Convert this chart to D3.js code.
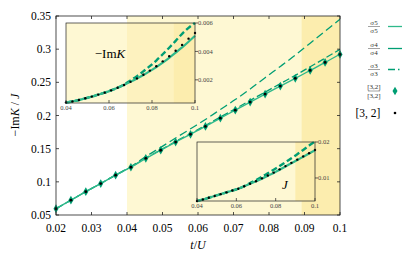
<!DOCTYPE html>
<html>
<head>
<meta charset="utf-8">
<script src="https://cdn.jsdelivr.net/npm/d3@7"></script>
<style>
  body { margin: 0; background: #fff; }
  svg { display: block; font-family: "Liberation Serif", "DejaVu Serif", serif; }
</style>
</head>
<body>
<div id="chart"></div>
<script>
// --- data ---
const tMain = [0.0200, 0.0242, 0.0284, 0.0326, 0.0368, 0.0411, 0.0453, 0.0495, 0.0537, 0.0579,
               0.0621, 0.0663, 0.0705, 0.0747, 0.0789, 0.0832, 0.0874, 0.0916, 0.0958, 0.1000];
const main32 = [0.0595, 0.0723, 0.0852, 0.0973, 0.1100, 0.1220, 0.1354, 0.1476, 0.1600, 0.1717,
                0.1836, 0.1960, 0.2080, 0.2203, 0.2323, 0.2443, 0.2560, 0.2680, 0.2800, 0.2920];
const mainSig5 = [0.0595, 0.0723, 0.0852, 0.0973, 0.1100, 0.1220, 0.1354, 0.1476, 0.1600, 0.1717,
                  0.1836, 0.1960, 0.2080, 0.2203, 0.2323, 0.2443, 0.2560, 0.2680, 0.2800, 0.2925];
const mainSig4 = [0.0595, 0.0723, 0.0852, 0.0973, 0.1101, 0.1223, 0.1358, 0.1482, 0.1608, 0.1728,
                  0.1850, 0.1977, 0.2100, 0.2228, 0.2353, 0.2481, 0.2605, 0.2735, 0.2865, 0.2996];
const mainSig3 = [0.0595, 0.0723, 0.0852, 0.0975, 0.1105, 0.1230, 0.1380, 0.1520, 0.1660, 0.1800,
                  0.1940, 0.2090, 0.2240, 0.2400, 0.2570, 0.2740, 0.2910, 0.3090, 0.3270, 0.3450];

const tInset = [0.040, 0.043, 0.046, 0.049, 0.052, 0.055, 0.058, 0.061, 0.064, 0.067, 0.070,
                0.073, 0.076, 0.079, 0.082, 0.085, 0.088, 0.091, 0.094, 0.097, 0.100];
const k32 = [0.00040, 0.00048, 0.00058, 0.00070, 0.00082, 0.00096, 0.00110, 0.00126, 0.00144, 0.00164, 0.00186,
             0.00210, 0.00236, 0.00265, 0.00296, 0.00330, 0.00366, 0.00405, 0.00446, 0.00490, 0.00530];
const kSig5 = [0.00040, 0.00048, 0.00058, 0.00070, 0.00082, 0.00096, 0.00110, 0.00126, 0.00144, 0.00164, 0.00186,
               0.00209, 0.00234, 0.00261, 0.00290, 0.00321, 0.00355, 0.00391, 0.00428, 0.00468, 0.00510];
const kSig3 = [0.00040, 0.00048, 0.00058, 0.00070, 0.00082, 0.00096, 0.00110, 0.00126, 0.00144, 0.00168, 0.00196,
               0.00226, 0.00260, 0.00296, 0.00336, 0.00380, 0.00426, 0.00474, 0.00524, 0.00566, 0.00600];
const j32 = [0.0036, 0.0040, 0.0045, 0.0050, 0.0055, 0.0060, 0.0065, 0.0070, 0.0077, 0.0084, 0.0091,
             0.0099, 0.0107, 0.0115, 0.0124, 0.0133, 0.0142, 0.0151, 0.0160, 0.0169, 0.0178];
const jSig5 = [0.0036, 0.0040, 0.0045, 0.0050, 0.0055, 0.0060, 0.0065, 0.0070, 0.0077, 0.0084, 0.0091,
               0.0098, 0.0106, 0.0114, 0.0123, 0.0132, 0.0141, 0.0150, 0.0159, 0.0168, 0.0177];
const jSig3 = [0.0036, 0.0040, 0.0045, 0.0050, 0.0055, 0.0060, 0.0065, 0.0070, 0.0077, 0.0086, 0.0094,
               0.0103, 0.0113, 0.0123, 0.0133, 0.0144, 0.0155, 0.0166, 0.0178, 0.0190, 0.0201];

const mainXTicks = [0.02, 0.03, 0.04, 0.05, 0.06, 0.07, 0.08, 0.09, 0.1];
const mainYTicks = [0.05, 0.1, 0.15, 0.2, 0.25, 0.3, 0.35];
const insetXTicks = [0.04, 0.06, 0.08, 0.1];
const kYTicks = [0.002, 0.004, 0.006];
const jYTicks = [0.01, 0.02];

// --- colours ---
const colors = {
    sig5: "#2fb98b",
    sig4: "#009e73",
    sig3: "#009e73",
    diamond: "#009e73",
    light: "#fef8d3",
    mid: "#fdf2bf",
    dark: "#fcedae",
    axis: "#222"
};

const width = 416, height = 258;
const svg = d3.select("#chart").append("svg")
    .attr("width", width).attr("height", height);

const fmt = d => d3.format("")(+d.toFixed(3));

// --- main plot ---
const x = d3.scaleLinear().domain([0.02, 0.1]).range([56, 340]);
const y = d3.scaleLinear().domain([0.05, 0.35]).range([215, 16]);

svg.append("rect").attr("x", x(0.04)).attr("y", y(0.35))
    .attr("width", x(0.1) - x(0.04)).attr("height", y(0.05) - y(0.35))
    .attr("fill", colors.light);
svg.append("rect").attr("x", x(0.0892)).attr("y", y(0.35))
    .attr("width", x(0.1) - x(0.0892)).attr("height", y(0.05) - y(0.35))
    .attr("fill", colors.dark);

const line = (xs, ys) => d3.line().x((d, i) => xs(d[0])).y(d => ys(d[1])).curve(d3.curveMonotoneX);

function drawSeries(g, xs, ys, ts, vals, stroke, w, dash) {
    g.append("path")
        .datum(ts.map((t, i) => [t, vals[i]]))
        .attr("d", line(xs, ys))
        .attr("fill", "none").attr("stroke", stroke)
        .attr("stroke-width", w)
        .attr("stroke-dasharray", dash || null);
}

const mainG = svg.append("g");
drawSeries(mainG, x, y, tMain, mainSig3, colors.sig3, 1.3, "8,4");
drawSeries(mainG, x, y, tMain, mainSig4, colors.sig4, 1.3, "7,3");
drawSeries(mainG, x, y, tMain, mainSig5, colors.sig5, 1.4);

mainG.selectAll(".dia").data(tMain).enter().append("path")
    .attr("transform", (d, i) => `translate(${x(d)},${y(main32[i])})`)
    .attr("d", d3.symbol(d3.symbolDiamond, 22)())
    .attr("fill", colors.diamond);
mainG.selectAll(".dot").data(tMain).enter().append("circle")
    .attr("cx", d => x(d)).attr("cy", (d, i) => y(main32[i]))
    .attr("r", 1.4).attr("fill", "#000");

// main frame and inward ticks
const frame = svg.append("g").attr("stroke", colors.axis).attr("stroke-width", 0.8);
frame.append("rect").attr("x", 56).attr("y", 16).attr("width", 284).attr("height", 199)
    .attr("fill", "none");
mainXTicks.forEach(t => {
    frame.append("line").attr("x1", x(t)).attr("x2", x(t)).attr("y1", 215).attr("y2", 212);
    frame.append("line").attr("x1", x(t)).attr("x2", x(t)).attr("y1", 16).attr("y2", 19);
});
mainYTicks.forEach(v => {
    frame.append("line").attr("x1", 56).attr("x2", 59).attr("y1", y(v)).attr("y2", y(v));
    frame.append("line").attr("x1", 340).attr("x2", 337).attr("y1", y(v)).attr("y2", y(v));
});

svg.append("g").selectAll("text").data(mainXTicks).enter().append("text")
    .attr("x", d => x(d)).attr("y", 232).attr("text-anchor", "middle")
    .attr("font-size", 11.5).text(fmt);
svg.append("g").selectAll("text").data(mainYTicks).enter().append("text")
    .attr("x", 51).attr("y", d => y(d) + 4).attr("text-anchor", "end")
    .attr("font-size", 11.5).text(fmt);

const xl = svg.append("text").attr("x", 198).attr("y", 249).attr("text-anchor", "middle")
    .attr("font-size", 12);
xl.append("tspan").attr("font-style", "italic").text("t");
xl.append("tspan").text("/");
xl.append("tspan").attr("font-style", "italic").text("U");

const yl = svg.append("text").attr("transform", "translate(19,115) rotate(-90)")
    .attr("text-anchor", "middle").attr("font-size", 12);
yl.append("tspan").text("\u2212Im");
yl.append("tspan").attr("font-style", "italic").text("K");
yl.append("tspan").text(" / ");
yl.append("tspan").attr("font-style", "italic").text("J");

// --- insets ---
function inset(x0, x1, y0, y1, yDomain, yTicks, series32, sig5, sig3, label) {
    const xs = d3.scaleLinear().domain([0.04, 0.1]).range([x0, x1]);
    const ys = d3.scaleLinear().domain(yDomain).range([y1, y0]);
    const g = svg.append("g");
    g.append("rect").attr("x", x0).attr("y", y0).attr("width", x1 - x0).attr("height", y1 - y0)
        .attr("fill", colors.light);
    g.append("rect").attr("x", Math.max(x0, x(0.04))).attr("y", y0)
        .attr("width", xs(0.09) - Math.max(x0, x(0.04))).attr("height", y1 - y0)
        .attr("fill", colors.mid).attr("opacity", x0 < x(0.04) ? 1 : 0);
    g.append("rect").attr("x", xs(0.09)).attr("y", y0).attr("width", x1 - xs(0.09)).attr("height", y1 - y0)
        .attr("fill", colors.dark);

    drawSeries(g, xs, ys, tInset, sig3, colors.sig3, 2.4, "6,3");
    drawSeries(g, xs, ys, tInset, sig5, colors.sig5, 2.2);
    g.selectAll(".dot").data(tInset).enter().append("circle")
        .attr("cx", d => xs(d)).attr("cy", (d, i) => ys(series32[i]))
        .attr("r", 1.2).attr("fill", "#000");

    const ax = g.append("g").attr("stroke", colors.axis).attr("stroke-width", 0.7);
    ax.append("rect").attr("x", x0).attr("y", y0).attr("width", x1 - x0).attr("height", y1 - y0)
        .attr("fill", "none");
    insetXTicks.forEach(t => {
        ax.append("line").attr("x1", xs(t)).attr("x2", xs(t)).attr("y1", y1).attr("y2", y1 - 3);
    });
    yTicks.forEach(v => {
        ax.append("line").attr("x1", x1).attr("x2", x1 + 3).attr("y1", ys(v)).attr("y2", ys(v));
    });
    g.selectAll(".xt").data(insetXTicks).enter().append("text")
        .attr("x", d => xs(d)).attr("y", y1 + 7).attr("text-anchor", "middle")
        .attr("font-size", 6.5).attr("fill", "#444").text(fmt);
    g.selectAll(".yt").data(yTicks).enter().append("text")
        .attr("x", x1 + 3).attr("y", d => ys(d) + 2.3)
        .attr("font-size", 6.5).attr("fill", "#444").text(fmt);
    return { xs, ys, g };
}

const kIn = inset(66, 195, 23, 103, [0.00037, 0.006], kYTicks, k32, kSig5, kSig3);
const kl = svg.append("text").attr("x", 110).attr("y", 58).attr("text-anchor", "middle").attr("font-size", 13);
kl.append("tspan").text("\u2212Im");
kl.append("tspan").attr("font-style", "italic").text("K");

const jIn = inset(197, 315, 142, 201, [0.0036, 0.02], jYTicks, j32, jSig5, jSig3);
svg.append("text").attr("x", 285).attr("y", 189).attr("text-anchor", "middle")
    .attr("font-size", 13).attr("font-style", "italic").text("J");

// --- legend ---
const legend = svg.append("g");
const legendRows = [
    { num: "\u03c35", den: "\u03c35", y: 26.5, kind: "line", stroke: colors.sig5, dash: null },
    { num: "\u03c34", den: "\u03c34", y: 48.5, kind: "line", stroke: colors.sig4, dash: null },
    { num: "\u03c33", den: "\u03c33", y: 69.5, kind: "line", stroke: colors.sig3, dash: "7,3,1.5,3" },
    { num: "[3,2]", den: "[3,2]", y: 91, kind: "diamond" }
];
legendRows.forEach(r => {
    legend.append("text").attr("x", 374).attr("y", r.y - 1.8).attr("text-anchor", "middle")
        .attr("font-size", 7).attr("fill", "#333").text(r.num);
    legend.append("line").attr("x1", 368).attr("x2", 380).attr("y1", r.y).attr("y2", r.y)
        .attr("stroke", "#444").attr("stroke-width", 0.5);
    legend.append("text").attr("x", 374).attr("y", r.y + 6.5).attr("text-anchor", "middle")
        .attr("font-size", 7).attr("fill", "#333").text(r.den);
    if (r.kind === "line") {
        legend.append("line").attr("x1", 388).attr("x2", 402).attr("y1", r.y).attr("y2", r.y)
            .attr("stroke", r.stroke).attr("stroke-width", 1.3)
            .attr("stroke-dasharray", r.dash);
    } else {
        legend.append("path").attr("transform", `translate(395,${r.y})`)
            .attr("d", d3.symbol(d3.symbolDiamond, 22)()).attr("fill", colors.diamond);
    }
});
legend.append("text").attr("x", 368).attr("y", 117).attr("text-anchor", "middle")
    .attr("font-size", 11.5).text("[3, 2]");
legend.append("circle").attr("cx", 395).attr("cy", 113).attr("r", 1.3).attr("fill", "#000");
</script>
</body>
</html>
